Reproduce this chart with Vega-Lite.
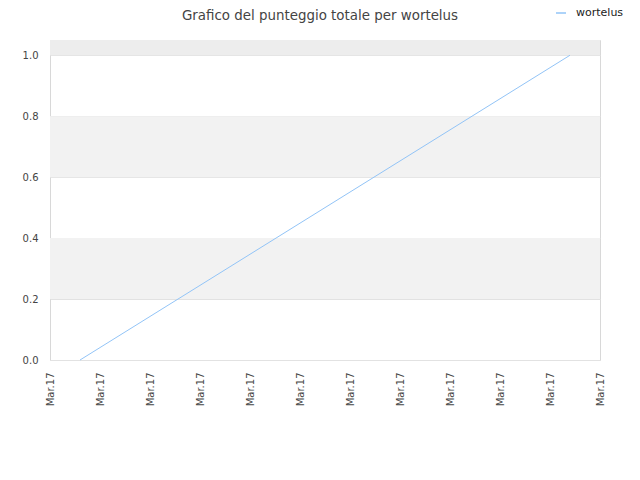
{
  "$schema": "https://vega.github.io/schema/vega-lite/v6.json",
  "width": 550,
  "height": 320,
  "autosize": "none",
  "padding": {"left": 50, "top": 40, "right": 40, "bottom": 120},
  "background": "white",
  "title": {
    "text": "Grafico del punteggio totale per wortelus",
    "anchor": "middle",
    "dx": -5,
    "offset": -15,
    "fontSize": 13.4,
    "fontWeight": "normal",
    "font": "DejaVu Sans",
    "color": "#444444"
  },
  "datasets": {
    "bands": [{"lo": 0.2, "hi": 0.4}, {"lo": 0.6, "hi": 0.8}],
    "topband": [{"lo": 1.0, "hi": 1.05}],
    "score": [
      {"t": 0.6, "punteggio": 0, "serie": "wortelus"},
      {"t": 10.4, "punteggio": 1, "serie": "wortelus"}
    ]
  },
  "layer": [
    {
      "data": {"name": "bands"},
      "mark": {"type": "rect", "color": "#f2f2f2"},
      "encoding": {
        "y": {"field": "lo", "type": "quantitative"},
        "y2": {"field": "hi"}
      }
    },
    {
      "data": {"name": "topband"},
      "mark": {"type": "rect", "color": "#ededed"},
      "encoding": {
        "y": {"field": "lo", "type": "quantitative"},
        "y2": {"field": "hi"}
      }
    },
    {
      "data": {"name": "score"},
      "mark": {"type": "line", "strokeWidth": 1},
      "encoding": {
        "x": {
          "field": "t",
          "type": "quantitative",
          "scale": {"domain": [0, 11], "nice": false},
          "axis": {
            "title": null,
            "values": [0, 1, 2, 3, 4, 5, 6, 7, 8, 9, 10, 11],
            "labelExpr": "'Mar.17'",
            "labelAngle": 270,
            "labelPadding": 12,
            "ticks": false,
            "grid": false,
            "domain": false
          }
        },
        "y": {
          "field": "punteggio",
          "type": "quantitative",
          "scale": {"domain": [0, 1.05], "nice": false},
          "axis": {
            "title": null,
            "values": [0, 0.2, 0.4, 0.6, 0.8, 1.0],
            "format": ".1f",
            "labelPadding": 12,
            "ticks": false,
            "grid": true,
            "gridColor": "#e2e2e2",
            "domain": false
          }
        },
        "color": {
          "field": "serie",
          "type": "nominal",
          "scale": {"range": ["#92c4f7"]},
          "legend": {
            "title": null,
            "orient": "none",
            "legendX": 505,
            "legendY": -33,
            "symbolType": "stroke",
            "symbolSize": 100,
            "symbolStrokeWidth": 1.5,
            "labelFontSize": 11,
            "labelFont": "DejaVu Sans",
            "labelColor": "#222222",
            "labelOffset": 9
          }
        }
      }
    }
  ],
  "config": {
    "view": {"stroke": "#d8d8d8", "strokeWidth": 1},
    "axis": {
      "labelFont": "DejaVu Sans",
      "labelFontSize": 10,
      "labelColor": "#444444"
    }
  }
}
